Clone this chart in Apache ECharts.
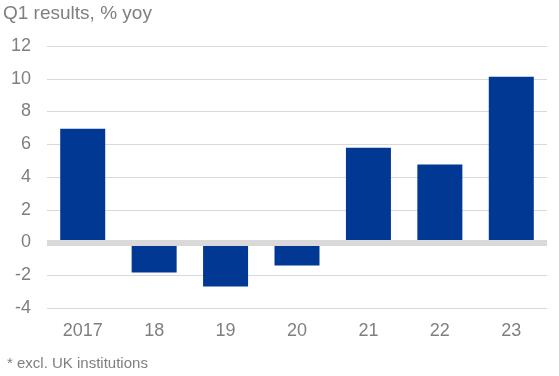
<!DOCTYPE html>
<html>
<head>
<meta charset="utf-8">
<script src="https://cdn.jsdelivr.net/npm/echarts@6/dist/echarts.min.js"></script>
<style>
  html, body { margin: 0; padding: 0; background: #fff; }
  #main { width: 559px; height: 376px; }
</style>
</head>
<body>
<div id="main"></div>
<script>
// Q1 results, % yoy
const categories = ['2017', '18', '19', '20', '21', '22', '23']
const values = [6.95, -1.83, -2.68, -1.4, 5.79, 4.77, 10.12]
const yTicks = { min: -4, max: 12, interval: 2 }

const chart = echarts.init(document.getElementById('main'))
const font = 'Liberation Sans, Arial, sans-serif'

chart.setOption({
  animation: false,
  title: [
    {
      text: 'Q1 results, % yoy',
      left: 3,
      top: 4,
      padding: 0,
      textStyle: { fontFamily: font, fontSize: 19, fontWeight: 'normal', color: '#7f7f7f' }
    },
    {
      text: '* excl. UK institutions',
      left: 7,
      top: 356,
      padding: 0,
      textStyle: { fontFamily: font, fontSize: 15, fontWeight: 'normal', color: '#7f7f7f' }
    }
  ],
  grid: {
    left: 47,
    right: 12,
    top: 46,
    bottom: 68,
    containLabel: false
  },
  xAxis: {
    type: 'category',
    data: categories,
    axisLine: { show: false },
    axisTick: { show: false },
    axisLabel: {
      margin: 14,
      fontFamily: font,
      fontSize: 18,
      color: '#7f7f7f'
    }
  },
  yAxis: {
    type: 'value',
    min: yTicks.min,
    max: yTicks.max,
    interval: yTicks.interval,
    axisLine: { show: false },
    axisTick: { show: false },
    axisLabel: {
      margin: 16,
      fontFamily: font,
      fontSize: 18,
      color: '#7f7f7f'
    },
    splitLine: { lineStyle: { color: '#d9d9d9', width: 1 } }
  },
  series: [
    {
      type: 'bar',
      data: values,
      barWidth: 45,
      itemStyle: { color: '#003894' },
      markLine: {
        silent: true,
        symbol: 'none',
        label: { show: false },
        lineStyle: { color: '#d9d9d9', width: 6, type: 'solid' },
        data: [{ yAxis: 0 }]
      }
    }
  ]
})
</script>
</body>
</html>
